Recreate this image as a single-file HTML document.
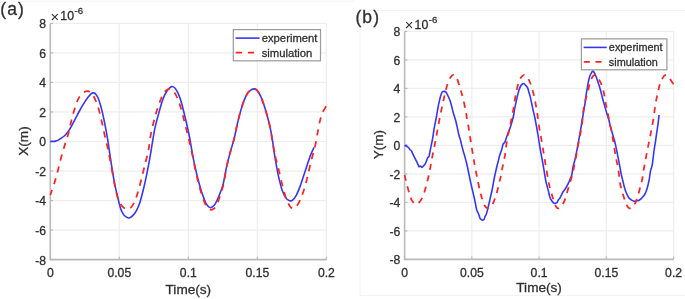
<!DOCTYPE html>
<html><head><meta charset="utf-8"><style>
html,body{margin:0;padding:0;background:#fff;}
body{width:685px;height:299px;overflow:hidden;}
svg{display:block;font-family:'Liberation Sans', sans-serif;filter:blur(0.35px);}
text{stroke:#303030;stroke-width:0.3px;}
</style></head><body>
<svg width="685" height="299" viewBox="0 0 685 299">
<rect width="685" height="299" fill="#fff"/>
<path d="M20,1.2 H355 M360,10.5 V295.5 H685 M378,10.5 H685" fill="none" stroke="#f3f3f3" stroke-width="1"/>
<line x1="119.32" y1="23.40" x2="119.32" y2="259.60" stroke="#eeeeee" stroke-width="1.2"/>
<line x1="188.35" y1="23.40" x2="188.35" y2="259.60" stroke="#eeeeee" stroke-width="1.2"/>
<line x1="257.38" y1="23.40" x2="257.38" y2="259.60" stroke="#eeeeee" stroke-width="1.2"/>
<line x1="326.40" y1="23.40" x2="326.40" y2="259.60" stroke="#eeeeee" stroke-width="1.2"/>
<line x1="50.30" y1="23.40" x2="326.40" y2="23.40" stroke="#eeeeee" stroke-width="1.2"/>
<line x1="50.30" y1="52.92" x2="326.40" y2="52.92" stroke="#eeeeee" stroke-width="1.2"/>
<line x1="50.30" y1="82.45" x2="326.40" y2="82.45" stroke="#eeeeee" stroke-width="1.2"/>
<line x1="50.30" y1="111.97" x2="326.40" y2="111.97" stroke="#eeeeee" stroke-width="1.2"/>
<line x1="50.30" y1="141.50" x2="326.40" y2="141.50" stroke="#eeeeee" stroke-width="1.2"/>
<line x1="50.30" y1="171.03" x2="326.40" y2="171.03" stroke="#eeeeee" stroke-width="1.2"/>
<line x1="50.30" y1="200.55" x2="326.40" y2="200.55" stroke="#eeeeee" stroke-width="1.2"/>
<line x1="50.30" y1="230.08" x2="326.40" y2="230.08" stroke="#eeeeee" stroke-width="1.2"/>
<path d="M50.30,23.40 L50.30,259.60 L326.40,259.60" fill="none" stroke="#b9b9b9" stroke-width="1.6"/>
<line x1="50.30" y1="23.40" x2="53.10" y2="23.40" stroke="#b9b9b9" stroke-width="1.2"/>
<line x1="50.30" y1="52.92" x2="53.10" y2="52.92" stroke="#b9b9b9" stroke-width="1.2"/>
<line x1="50.30" y1="82.45" x2="53.10" y2="82.45" stroke="#b9b9b9" stroke-width="1.2"/>
<line x1="50.30" y1="111.97" x2="53.10" y2="111.97" stroke="#b9b9b9" stroke-width="1.2"/>
<line x1="50.30" y1="141.50" x2="53.10" y2="141.50" stroke="#b9b9b9" stroke-width="1.2"/>
<line x1="50.30" y1="171.03" x2="53.10" y2="171.03" stroke="#b9b9b9" stroke-width="1.2"/>
<line x1="50.30" y1="200.55" x2="53.10" y2="200.55" stroke="#b9b9b9" stroke-width="1.2"/>
<line x1="50.30" y1="230.08" x2="53.10" y2="230.08" stroke="#b9b9b9" stroke-width="1.2"/>
<line x1="50.30" y1="259.60" x2="53.10" y2="259.60" stroke="#b9b9b9" stroke-width="1.2"/>
<line x1="50.30" y1="259.60" x2="50.30" y2="256.80" stroke="#b9b9b9" stroke-width="1.2"/>
<line x1="119.32" y1="259.60" x2="119.32" y2="256.80" stroke="#b9b9b9" stroke-width="1.2"/>
<line x1="188.35" y1="259.60" x2="188.35" y2="256.80" stroke="#b9b9b9" stroke-width="1.2"/>
<line x1="257.38" y1="259.60" x2="257.38" y2="256.80" stroke="#b9b9b9" stroke-width="1.2"/>
<line x1="326.40" y1="259.60" x2="326.40" y2="256.80" stroke="#b9b9b9" stroke-width="1.2"/>
<text x="46.10" y="28.30" text-anchor="end" font-size="12.2" fill="#303030">8</text>
<text x="46.10" y="57.82" text-anchor="end" font-size="12.2" fill="#303030">6</text>
<text x="46.10" y="87.35" text-anchor="end" font-size="12.2" fill="#303030">4</text>
<text x="46.10" y="116.88" text-anchor="end" font-size="12.2" fill="#303030">2</text>
<text x="46.10" y="146.40" text-anchor="end" font-size="12.2" fill="#303030">0</text>
<text x="46.10" y="175.93" text-anchor="end" font-size="12.2" fill="#303030">-2</text>
<text x="46.10" y="205.45" text-anchor="end" font-size="12.2" fill="#303030">-4</text>
<text x="46.10" y="234.98" text-anchor="end" font-size="12.2" fill="#303030">-6</text>
<text x="46.10" y="264.50" text-anchor="end" font-size="12.2" fill="#303030">-8</text>
<text x="50.30" y="276.80" text-anchor="middle" font-size="12.2" fill="#303030">0</text>
<text x="119.32" y="276.80" text-anchor="middle" font-size="12.2" fill="#303030">0.05</text>
<text x="188.35" y="276.80" text-anchor="middle" font-size="12.2" fill="#303030">0.1</text>
<text x="257.38" y="276.80" text-anchor="middle" font-size="12.2" fill="#303030">0.15</text>
<text x="326.40" y="276.80" text-anchor="middle" font-size="12.2" fill="#303030">0.2</text>
<text x="50.50" y="21.90" font-size="14.8" fill="#303030" style="stroke:none">&#215;</text>
<text x="60.30" y="20.40" font-size="12.3" fill="#303030">10</text>
<text x="74.50" y="14.10" font-size="9.6" fill="#303030">-6</text>
<text x="188.35" y="293.70" text-anchor="middle" font-size="13.6" fill="#303030">Time(s)</text>
<text transform="translate(28.40,141.00) rotate(-90)" text-anchor="middle" font-size="13.6" fill="#303030">X(m)</text>
<path d="M50.30,141.40 C50.75,141.40 52.10,141.45 53.00,141.40 C53.90,141.35 54.80,141.32 55.70,141.10 C56.60,140.88 57.52,140.57 58.40,140.10 C59.28,139.63 60.12,138.90 61.00,138.30 C61.88,137.70 62.80,137.25 63.70,136.50 C64.60,135.75 65.50,134.87 66.40,133.80 C67.30,132.73 68.22,131.43 69.10,130.10 C69.98,128.77 70.82,127.37 71.70,125.80 C72.58,124.23 73.50,122.45 74.40,120.70 C75.30,118.95 76.17,117.08 77.10,115.30 C78.03,113.52 79.00,111.78 80.00,110.00 C81.00,108.22 81.80,106.67 83.10,104.60 C84.40,102.53 86.43,99.43 87.80,97.60 C89.17,95.77 90.32,94.38 91.30,93.60 C92.28,92.82 92.92,92.75 93.70,92.90 C94.48,93.05 95.22,93.53 96.00,94.50 C96.78,95.47 97.62,96.82 98.40,98.70 C99.18,100.58 99.93,103.07 100.70,105.80 C101.47,108.53 102.22,111.60 103.00,115.10 C103.78,118.60 104.62,122.70 105.40,126.80 C106.18,130.90 106.65,133.10 107.70,139.70 C108.75,146.30 110.57,159.22 111.70,166.40 C112.83,173.58 113.52,177.73 114.50,182.80 C115.48,187.87 116.58,192.52 117.60,196.80 C118.62,201.08 119.63,205.57 120.60,208.50 C121.57,211.43 122.35,212.92 123.40,214.40 C124.45,215.88 125.92,216.82 126.90,217.40 C127.88,217.98 128.32,218.20 129.30,217.90 C130.28,217.60 131.63,216.77 132.80,215.60 C133.97,214.43 135.13,213.05 136.30,210.90 C137.47,208.75 138.63,206.22 139.80,202.70 C140.97,199.18 142.20,194.28 143.30,189.80 C144.40,185.32 145.42,180.48 146.40,175.80 C147.38,171.12 148.42,165.92 149.20,161.70 C149.98,157.48 150.48,154.20 151.10,150.50 C151.72,146.80 152.22,143.45 152.90,139.50 C153.58,135.55 154.30,130.87 155.20,126.80 C156.10,122.73 157.25,119.00 158.30,115.10 C159.35,111.20 160.45,106.72 161.50,103.40 C162.55,100.08 163.50,97.53 164.60,95.20 C165.70,92.87 166.93,90.83 168.10,89.40 C169.27,87.97 170.43,86.80 171.60,86.60 C172.77,86.40 174.05,87.15 175.10,88.20 C176.15,89.25 176.92,90.75 177.90,92.90 C178.88,95.05 179.98,97.78 181.00,101.10 C182.02,104.42 183.03,108.90 184.00,112.80 C184.97,116.70 185.88,120.47 186.80,124.50 C187.72,128.53 188.48,131.68 189.50,137.00 C190.52,142.32 191.75,150.43 192.90,156.40 C194.05,162.37 195.15,167.53 196.40,172.80 C197.65,178.07 199.28,184.12 200.40,188.00 C201.52,191.88 202.22,193.63 203.10,196.10 C203.98,198.57 204.82,201.07 205.70,202.80 C206.58,204.53 207.62,205.68 208.40,206.50 C209.18,207.32 209.73,207.65 210.40,207.70 C211.07,207.75 211.62,207.40 212.40,206.80 C213.18,206.20 214.20,205.45 215.10,204.10 C216.00,202.75 216.90,200.72 217.80,198.70 C218.70,196.68 219.60,194.45 220.50,192.00 C221.40,189.55 222.15,188.37 223.20,184.00 C224.25,179.63 225.60,171.18 226.80,165.80 C228.00,160.42 229.17,156.25 230.40,151.70 C231.63,147.15 233.07,143.03 234.20,138.50 C235.33,133.97 236.10,129.18 237.20,124.50 C238.30,119.82 239.62,114.50 240.80,110.40 C241.98,106.30 243.13,102.82 244.30,99.90 C245.47,96.98 246.63,94.58 247.80,92.90 C248.97,91.22 250.22,90.47 251.30,89.80 C252.38,89.13 253.32,88.78 254.30,88.90 C255.28,89.02 256.13,89.25 257.20,90.50 C258.27,91.75 259.53,93.85 260.70,96.40 C261.87,98.95 263.15,102.68 264.20,105.80 C265.25,108.92 266.03,111.60 267.00,115.10 C267.97,118.60 269.08,122.57 270.00,126.80 C270.92,131.03 271.87,136.63 272.50,140.50 C273.13,144.37 273.17,145.90 273.80,150.00 C274.43,154.10 275.47,160.50 276.30,165.10 C277.13,169.70 277.83,173.43 278.80,177.60 C279.77,181.77 280.97,186.77 282.10,190.10 C283.23,193.43 284.35,195.83 285.60,197.60 C286.85,199.37 288.43,200.27 289.60,200.70 C290.77,201.13 291.47,201.13 292.60,200.20 C293.73,199.27 295.15,197.40 296.40,195.10 C297.65,192.80 298.85,189.73 300.10,186.40 C301.35,183.07 302.65,178.87 303.90,175.10 C305.15,171.33 306.48,167.15 307.60,163.80 C308.72,160.45 309.53,157.73 310.60,155.00 C311.67,152.27 313.43,148.67 314.00,147.40" fill="none" stroke="#3636f8" stroke-width="1.6"/>
<path d="M50.30,195.00 C51.08,192.67 53.63,185.50 55.00,181.00 C56.37,176.50 57.32,172.50 58.50,168.00 C59.68,163.50 60.92,158.28 62.10,154.00 C63.28,149.72 64.55,145.73 65.60,142.30 C66.65,138.87 67.60,136.33 68.40,133.40 C69.20,130.47 69.73,127.48 70.40,124.70 C71.07,121.92 71.65,119.47 72.40,116.70 C73.15,113.93 73.90,111.10 74.90,108.10 C75.90,105.10 77.03,101.23 78.40,98.70 C79.77,96.17 81.62,94.15 83.10,92.90 C84.58,91.65 85.93,91.20 87.30,91.20 C88.67,91.20 90.05,91.65 91.30,92.90 C92.55,94.15 93.62,96.17 94.80,98.70 C95.98,101.23 97.22,104.18 98.40,108.10 C99.58,112.02 100.73,117.13 101.90,122.20 C103.07,127.27 104.35,133.87 105.40,138.50 C106.45,143.13 107.15,144.97 108.20,150.00 C109.25,155.03 110.53,162.45 111.70,168.70" fill="none" stroke="#ff2222" stroke-width="1.75" stroke-dasharray="6.30 5.90" stroke-dashoffset="0.88"/>
<path d="M111.70,168.70 C112.87,174.95 114.03,182.22 115.20,187.50 C116.37,192.78 117.33,197.08 118.70,200.40 C120.07,203.72 121.83,205.97 123.40,207.40 C124.97,208.83 126.73,209.12 128.10,209.00 C129.47,208.88 130.43,208.13 131.60,206.70 C132.77,205.27 133.93,203.22 135.10,200.40 C136.27,197.58 137.42,193.90 138.60,189.80 C139.78,185.70 141.02,180.48 142.20,175.80 C143.38,171.12 144.65,166.00 145.70,161.70 C146.75,157.40 147.70,154.25 148.50,150.00 C149.30,145.75 149.65,140.83 150.50,136.20 C151.35,131.57 152.53,126.50 153.60,122.20 C154.67,117.90 155.73,114.12 156.90,110.40 C158.07,106.68 159.43,102.82 160.60,99.90 C161.77,96.98 162.73,94.65 163.90,92.90 C165.07,91.15 166.43,90.07 167.60,89.40 C168.77,88.73 169.72,88.32 170.90,88.90 C172.08,89.48 173.42,90.87 174.70,92.90 C175.98,94.93 177.35,97.78 178.60,101.10 C179.85,104.42 181.02,108.52 182.20,112.80 C183.38,117.08 184.53,122.12 185.70,126.80 C186.87,131.48 188.03,135.97 189.20,140.90 C190.37,145.83 191.57,151.08 192.70,156.40" fill="none" stroke="#ff2222" stroke-width="1.75" stroke-dasharray="6.30 5.90" stroke-dashoffset="0.17"/>
<path d="M192.70,156.40 C193.83,161.72 194.88,167.73 196.00,172.80 C197.12,177.87 198.33,182.85 199.40,186.80 C200.47,190.75 201.43,193.67 202.40,196.50 C203.37,199.33 204.23,201.83 205.20,203.80 C206.17,205.77 207.18,207.30 208.20,208.30 C209.22,209.30 210.30,209.78 211.30,209.80 C212.30,209.82 213.28,209.28 214.20,208.40 C215.12,207.52 215.98,206.15 216.80,204.50 C217.62,202.85 218.37,200.58 219.10,198.50 C219.83,196.42 220.45,194.42 221.20,192.00 C221.95,189.58 222.65,188.37 223.60,184.00 C224.55,179.63 225.77,171.18 226.90,165.80 C228.03,160.42 229.18,156.25 230.40,151.70 C231.62,147.15 233.07,143.03 234.20,138.50 C235.33,133.97 236.10,129.18 237.20,124.50 C238.30,119.82 239.62,114.50 240.80,110.40 C241.98,106.30 243.13,102.82 244.30,99.90 C245.47,96.98 246.63,94.58 247.80,92.90 C248.97,91.22 250.22,90.47 251.30,89.80 C252.38,89.13 253.32,88.78 254.30,88.90 C255.28,89.02 256.13,89.25 257.20,90.50 C258.27,91.75 259.53,93.85 260.70,96.40 C261.87,98.95 263.15,102.68 264.20,105.80 C265.25,108.92 266.03,111.60 267.00,115.10 C267.97,118.60 269.12,122.65 270.00,126.80 C270.88,130.95 271.47,135.30 272.30,140.00 C273.13,144.70 273.92,149.98 275.00,155.00" fill="none" stroke="#ff2222" stroke-width="1.75" stroke-dasharray="6.30 5.90" stroke-dashoffset="4.74"/>
<path d="M275.00,155.00 C276.08,160.02 277.53,164.87 278.80,170.10 C280.07,175.33 281.35,181.60 282.60,186.40 C283.85,191.20 285.05,195.57 286.30,198.90 C287.55,202.23 288.97,204.82 290.10,206.40 C291.23,207.98 292.05,208.40 293.10,208.40 C294.15,208.40 295.23,207.77 296.40,206.40 C297.57,205.03 298.85,202.92 300.10,200.20 C301.35,197.48 302.65,194.08 303.90,190.10 C305.15,186.12 306.35,181.32 307.60,176.30 C308.85,171.28 310.15,165.02 311.40,160.00 C312.65,154.98 314.08,150.65 315.10,146.20 C316.12,141.75 316.72,137.40 317.50,133.30 C318.28,129.20 319.02,124.92 319.80,121.60 C320.58,118.28 321.12,116.00 322.20,113.40 C323.28,110.80 325.62,107.23 326.30,106.00" fill="none" stroke="#ff2222" stroke-width="1.75" stroke-dasharray="6.30 5.90" stroke-dashoffset="10.73"/>
<rect x="233.30" y="29.60" width="87.20" height="31.20" fill="#fff" stroke="#9a9a9a" stroke-width="1.2"/>
<line x1="235.61" y1="38.10" x2="259.53" y2="38.10" stroke="#3636f8" stroke-width="1.6"/>
<line x1="235.61" y1="52.60" x2="259.53" y2="52.60" stroke="#ff2222" stroke-width="1.6" stroke-dasharray="6.30 5.90" stroke-dashoffset="-0.05"/>
<text x="261.74" y="42.10" font-size="11.26" fill="#303030">experiment</text>
<text x="261.74" y="56.50" font-size="11.26" fill="#303030">simulation</text>
<text x="0.30" y="15.20" font-size="17.5" letter-spacing="1.1" fill="#303030">(a)</text>
<line x1="471.85" y1="31.40" x2="471.85" y2="259.40" stroke="#eeeeee" stroke-width="1.2"/>
<line x1="539.10" y1="31.40" x2="539.10" y2="259.40" stroke="#eeeeee" stroke-width="1.2"/>
<line x1="606.35" y1="31.40" x2="606.35" y2="259.40" stroke="#eeeeee" stroke-width="1.2"/>
<line x1="673.60" y1="31.40" x2="673.60" y2="259.40" stroke="#eeeeee" stroke-width="1.2"/>
<line x1="404.60" y1="31.40" x2="673.60" y2="31.40" stroke="#eeeeee" stroke-width="1.2"/>
<line x1="404.60" y1="59.90" x2="673.60" y2="59.90" stroke="#eeeeee" stroke-width="1.2"/>
<line x1="404.60" y1="88.40" x2="673.60" y2="88.40" stroke="#eeeeee" stroke-width="1.2"/>
<line x1="404.60" y1="116.90" x2="673.60" y2="116.90" stroke="#eeeeee" stroke-width="1.2"/>
<line x1="404.60" y1="145.40" x2="673.60" y2="145.40" stroke="#eeeeee" stroke-width="1.2"/>
<line x1="404.60" y1="173.90" x2="673.60" y2="173.90" stroke="#eeeeee" stroke-width="1.2"/>
<line x1="404.60" y1="202.40" x2="673.60" y2="202.40" stroke="#eeeeee" stroke-width="1.2"/>
<line x1="404.60" y1="230.90" x2="673.60" y2="230.90" stroke="#eeeeee" stroke-width="1.2"/>
<path d="M404.60,31.40 L404.60,259.40 L673.60,259.40" fill="none" stroke="#b9b9b9" stroke-width="1.6"/>
<line x1="404.60" y1="31.40" x2="407.40" y2="31.40" stroke="#b9b9b9" stroke-width="1.2"/>
<line x1="404.60" y1="59.90" x2="407.40" y2="59.90" stroke="#b9b9b9" stroke-width="1.2"/>
<line x1="404.60" y1="88.40" x2="407.40" y2="88.40" stroke="#b9b9b9" stroke-width="1.2"/>
<line x1="404.60" y1="116.90" x2="407.40" y2="116.90" stroke="#b9b9b9" stroke-width="1.2"/>
<line x1="404.60" y1="145.40" x2="407.40" y2="145.40" stroke="#b9b9b9" stroke-width="1.2"/>
<line x1="404.60" y1="173.90" x2="407.40" y2="173.90" stroke="#b9b9b9" stroke-width="1.2"/>
<line x1="404.60" y1="202.40" x2="407.40" y2="202.40" stroke="#b9b9b9" stroke-width="1.2"/>
<line x1="404.60" y1="230.90" x2="407.40" y2="230.90" stroke="#b9b9b9" stroke-width="1.2"/>
<line x1="404.60" y1="259.40" x2="407.40" y2="259.40" stroke="#b9b9b9" stroke-width="1.2"/>
<line x1="404.60" y1="259.40" x2="404.60" y2="256.60" stroke="#b9b9b9" stroke-width="1.2"/>
<line x1="471.85" y1="259.40" x2="471.85" y2="256.60" stroke="#b9b9b9" stroke-width="1.2"/>
<line x1="539.10" y1="259.40" x2="539.10" y2="256.60" stroke="#b9b9b9" stroke-width="1.2"/>
<line x1="606.35" y1="259.40" x2="606.35" y2="256.60" stroke="#b9b9b9" stroke-width="1.2"/>
<line x1="673.60" y1="259.40" x2="673.60" y2="256.60" stroke="#b9b9b9" stroke-width="1.2"/>
<text x="400.40" y="36.30" text-anchor="end" font-size="12.2" fill="#303030">8</text>
<text x="400.40" y="64.80" text-anchor="end" font-size="12.2" fill="#303030">6</text>
<text x="400.40" y="93.30" text-anchor="end" font-size="12.2" fill="#303030">4</text>
<text x="400.40" y="121.80" text-anchor="end" font-size="12.2" fill="#303030">2</text>
<text x="400.40" y="150.30" text-anchor="end" font-size="12.2" fill="#303030">0</text>
<text x="400.40" y="178.80" text-anchor="end" font-size="12.2" fill="#303030">-2</text>
<text x="400.40" y="207.30" text-anchor="end" font-size="12.2" fill="#303030">-4</text>
<text x="400.40" y="235.80" text-anchor="end" font-size="12.2" fill="#303030">-6</text>
<text x="400.40" y="264.30" text-anchor="end" font-size="12.2" fill="#303030">-8</text>
<text x="404.60" y="276.60" text-anchor="middle" font-size="12.2" fill="#303030">0</text>
<text x="471.85" y="276.60" text-anchor="middle" font-size="12.2" fill="#303030">0.05</text>
<text x="539.10" y="276.60" text-anchor="middle" font-size="12.2" fill="#303030">0.1</text>
<text x="606.35" y="276.60" text-anchor="middle" font-size="12.2" fill="#303030">0.15</text>
<text x="673.60" y="276.60" text-anchor="middle" font-size="12.2" fill="#303030">0.2</text>
<text x="404.80" y="30.40" font-size="14.8" fill="#303030" style="stroke:none">&#215;</text>
<text x="414.60" y="28.90" font-size="12.3" fill="#303030">10</text>
<text x="428.80" y="22.60" font-size="9.6" fill="#303030">-6</text>
<text x="539.10" y="292.30" text-anchor="middle" font-size="13.6" fill="#303030">Time(s)</text>
<text transform="translate(383.40,144.60) rotate(-90)" text-anchor="middle" font-size="13.6" fill="#303030">Y(m)</text>
<path d="M404.70,146.40 C404.92,146.23 405.55,145.33 406.00,145.40 C406.45,145.47 406.95,146.42 407.40,146.80 C407.85,147.18 408.27,147.22 408.70,147.70 C409.13,148.18 409.55,149.18 410.00,149.70 C410.45,150.22 410.95,150.13 411.40,150.80 C411.85,151.47 412.27,152.77 412.70,153.70 C413.13,154.63 413.55,155.50 414.00,156.40 C414.45,157.30 414.95,158.22 415.40,159.10 C415.85,159.98 416.25,160.77 416.70,161.70 C417.15,162.63 417.70,163.85 418.10,164.70 C418.50,165.55 418.70,166.58 419.10,166.80 C419.50,167.02 420.05,165.90 420.50,166.00 C420.95,166.10 421.32,167.40 421.80,167.40 C422.28,167.40 422.80,166.62 423.40,166.00 C424.00,165.38 424.85,164.63 425.40,163.70 C425.95,162.77 426.32,161.40 426.70,160.40 C427.08,159.40 427.32,158.37 427.70,157.70 C428.08,157.03 428.60,157.52 429.00,156.40 C429.40,155.28 429.70,153.00 430.10,151.00 C430.50,149.00 430.95,146.62 431.40,144.40 C431.85,142.18 432.37,140.23 432.80,137.70 C433.23,135.17 433.42,132.57 434.00,129.20 C434.58,125.83 435.58,121.37 436.30,117.50 C437.02,113.63 437.82,108.58 438.30,106.00 C438.78,103.42 438.88,103.42 439.20,102.00 C439.52,100.58 439.82,98.92 440.20,97.50 C440.58,96.08 441.10,94.47 441.50,93.50 C441.90,92.53 442.13,92.05 442.60,91.70 C443.07,91.35 443.73,91.33 444.30,91.40 C444.87,91.47 445.50,91.58 446.00,92.10 C446.50,92.62 446.88,93.68 447.30,94.50 C447.72,95.32 448.05,96.00 448.50,97.00 C448.95,98.00 449.48,99.00 450.00,100.50 C450.52,102.00 451.12,104.17 451.60,106.00 C452.08,107.83 452.50,110.00 452.90,111.50 C453.30,113.00 453.48,113.30 454.00,115.00 C454.52,116.70 455.40,119.37 456.00,121.70 C456.60,124.03 457.08,126.67 457.60,129.00 C458.12,131.33 458.58,133.70 459.10,135.70 C459.62,137.70 460.22,139.22 460.70,141.00 C461.18,142.78 461.55,144.62 462.00,146.40 C462.45,148.18 462.90,149.92 463.40,151.70 C463.90,153.48 464.45,155.08 465.00,157.10 C465.55,159.12 466.20,161.73 466.70,163.80 C467.20,165.87 467.42,166.73 468.00,169.50 C468.58,172.27 469.47,176.98 470.20,180.40 C470.93,183.82 471.77,187.28 472.40,190.00 C473.03,192.72 473.50,194.47 474.00,196.70 C474.50,198.93 474.95,201.18 475.40,203.40 C475.85,205.62 476.27,208.45 476.70,210.00 C477.13,211.55 477.60,211.80 478.00,212.70 C478.40,213.60 478.77,214.50 479.10,215.40 C479.43,216.30 479.62,217.38 480.00,218.10 C480.38,218.82 480.95,219.37 481.40,219.70 C481.85,220.03 482.25,220.15 482.70,220.10 C483.15,220.05 483.72,219.97 484.10,219.40 C484.48,218.83 484.67,217.48 485.00,216.70 C485.33,215.92 485.75,215.58 486.10,214.70 C486.45,213.82 486.77,212.62 487.10,211.40 C487.43,210.18 487.72,208.97 488.10,207.40 C488.48,205.83 488.97,203.90 489.40,202.00 C489.83,200.10 490.25,198.00 490.70,196.00 C491.15,194.00 491.68,192.00 492.10,190.00 C492.52,188.00 492.85,185.92 493.20,184.00 C493.55,182.08 493.80,180.50 494.20,178.50 C494.60,176.50 495.13,174.08 495.60,172.00 C496.07,169.92 496.57,167.75 497.00,166.00 C497.43,164.25 497.75,163.30 498.20,161.50 C498.65,159.70 499.15,157.08 499.70,155.20 C500.25,153.32 500.92,152.08 501.50,150.20 C502.08,148.32 502.65,145.20 503.20,143.90 C503.75,142.60 504.27,143.43 504.80,142.40 C505.33,141.37 505.80,139.37 506.40,137.70 C507.00,136.03 507.73,134.18 508.40,132.40 C509.07,130.62 509.73,129.02 510.40,127.00 C511.07,124.98 511.85,122.30 512.40,120.30 C512.95,118.30 513.37,116.72 513.70,115.00 C514.03,113.28 514.05,111.93 514.40,110.00 C514.75,108.07 515.30,105.72 515.80,103.40 C516.30,101.08 516.87,98.32 517.40,96.10 C517.93,93.88 518.45,91.78 519.00,90.10 C519.55,88.42 520.12,87.02 520.70,86.00 C521.28,84.98 521.98,84.40 522.50,84.00 C523.02,83.60 523.32,83.43 523.80,83.60 C524.28,83.77 524.80,84.37 525.40,85.00 C526.00,85.63 526.85,86.33 527.40,87.40 C527.95,88.47 528.25,89.95 528.70,91.40 C529.15,92.85 529.65,94.32 530.10,96.10 C530.55,97.88 530.95,99.98 531.40,102.10 C531.85,104.22 532.20,106.07 532.80,108.80 C533.40,111.53 534.15,114.23 535.00,118.50 C535.85,122.77 537.15,130.00 537.90,134.40 C538.65,138.80 538.92,141.40 539.50,144.90 C540.08,148.40 540.70,151.50 541.40,155.40 C542.10,159.30 542.98,164.15 543.70,168.30 C544.42,172.45 545.15,177.40 545.70,180.30 C546.25,183.20 546.55,183.92 547.00,185.70 C547.45,187.48 547.95,189.22 548.40,191.00 C548.85,192.78 549.27,194.95 549.70,196.40 C550.13,197.85 550.45,198.70 551.00,199.70 C551.55,200.70 552.43,201.80 553.00,202.40 C553.57,203.00 553.95,203.18 554.40,203.30 C554.85,203.42 555.25,203.25 555.70,203.10 C556.15,202.95 556.65,202.97 557.10,202.40 C557.55,201.83 557.97,200.37 558.40,199.70 C558.83,199.03 559.25,199.07 559.70,198.40 C560.15,197.73 560.65,196.60 561.10,195.70 C561.55,194.80 561.97,193.78 562.40,193.00 C562.83,192.22 563.25,191.67 563.70,191.00 C564.15,190.33 564.65,189.67 565.10,189.00 C565.55,188.33 565.95,187.77 566.40,187.00 C566.85,186.23 567.35,185.28 567.80,184.40 C568.25,183.52 568.67,182.72 569.10,181.70 C569.53,180.68 569.95,179.42 570.40,178.30 C570.85,177.18 571.37,176.85 571.80,175.00 C572.23,173.15 572.40,170.07 573.00,167.20 C573.60,164.33 574.62,161.32 575.40,157.80 C576.18,154.28 576.93,150.20 577.70,146.10 C578.47,142.00 579.38,136.72 580.00,133.20 C580.62,129.68 580.85,128.28 581.40,125.00 C581.95,121.72 582.72,116.97 583.30,113.50 C583.88,110.03 584.43,107.28 584.90,104.20 C585.37,101.12 585.70,97.68 586.10,95.00 C586.50,92.32 586.90,90.42 587.30,88.10 C587.70,85.78 588.10,83.05 588.50,81.10 C588.90,79.15 589.22,77.77 589.70,76.40 C590.18,75.03 590.88,73.78 591.40,72.90 C591.92,72.02 592.37,71.20 592.80,71.10 C593.23,71.00 593.55,71.62 594.00,72.30 C594.45,72.98 594.95,73.93 595.50,75.20 C596.05,76.47 596.72,78.23 597.30,79.90 C597.88,81.57 598.45,83.43 599.00,85.20 C599.55,86.97 600.02,88.32 600.60,90.50 C601.18,92.68 601.80,95.63 602.50,98.30 C603.20,100.97 604.02,103.77 604.80,106.50 C605.58,109.23 606.52,112.45 607.20,114.70 C607.88,116.95 608.35,117.95 608.90,120.00 C609.45,122.05 609.83,124.47 610.50,127.00 C611.17,129.53 612.12,132.47 612.90,135.20 C613.68,137.93 614.42,140.08 615.20,143.40 C615.98,146.72 616.82,151.20 617.60,155.10 C618.38,159.00 619.27,163.48 619.90,166.80 C620.53,170.12 620.93,172.75 621.40,175.00 C621.87,177.25 622.27,178.52 622.70,180.30 C623.13,182.08 623.55,184.02 624.00,185.70 C624.45,187.38 624.83,188.83 625.40,190.40 C625.97,191.97 626.73,193.77 627.40,195.10 C628.07,196.43 628.62,197.52 629.40,198.40 C630.18,199.28 631.22,199.92 632.10,200.40 C632.98,200.88 633.93,201.23 634.70,201.30 C635.47,201.37 636.03,200.95 636.70,200.80 C637.37,200.65 638.03,200.67 638.70,200.40 C639.37,200.13 639.88,199.93 640.70,199.20 C641.52,198.47 642.82,197.02 643.60,196.00 C644.38,194.98 644.82,194.37 645.40,193.10 C645.98,191.83 646.62,189.97 647.10,188.40 C647.58,186.83 647.90,185.45 648.30,183.70 C648.70,181.95 649.17,179.85 649.50,177.90 C649.83,175.95 650.02,173.57 650.30,172.00 C650.58,170.43 650.88,169.67 651.20,168.50 C651.52,167.33 651.87,166.83 652.20,165.00 C652.53,163.17 652.88,160.00 653.20,157.50 C653.52,155.00 653.73,152.57 654.10,150.00 C654.47,147.43 654.97,144.97 655.40,142.10 C655.83,139.23 656.25,135.92 656.70,132.80 C657.15,129.68 657.72,126.37 658.10,123.40 C658.48,120.43 658.85,116.40 659.00,115.00" fill="none" stroke="#3636f8" stroke-width="1.6"/>
<path d="M404.50,174.80 C404.67,175.43 405.08,176.97 405.50,178.60 C405.92,180.23 406.50,182.60 407.00,184.60 C407.50,186.60 407.95,188.60 408.50,190.60 C409.05,192.60 409.67,194.85 410.30,196.60 C410.93,198.35 411.58,199.97 412.30,201.10 C413.02,202.23 413.85,202.93 414.60,203.40 C415.35,203.87 416.00,204.12 416.80,203.90 C417.60,203.68 418.55,203.02 419.40,202.10 C420.25,201.18 421.08,200.03 421.90,198.40 C422.72,196.77 423.53,194.57 424.30,192.30 C425.07,190.03 425.83,187.32 426.50,184.80 C427.17,182.28 427.75,179.67 428.30,177.20 C428.85,174.73 429.37,172.13 429.80,170.00 C430.23,167.87 430.52,166.45 430.90,164.40 C431.28,162.35 431.68,159.93 432.10,157.70 C432.52,155.47 432.95,153.22 433.40,151.00 C433.85,148.78 434.35,146.62 434.80,144.40 C435.25,142.18 435.27,142.18 436.10,137.70 C436.93,133.22 438.60,123.60 439.80,117.50 C441.00,111.40 442.48,104.88 443.30,101.10 C444.12,97.32 444.13,97.20 444.70,94.80 C445.27,92.40 445.92,89.27 446.70,86.70 C447.48,84.13 448.50,81.28 449.40,79.40 C450.30,77.52 451.32,76.13 452.10,75.40 C452.88,74.67 453.33,74.57 454.10,75.00 C454.87,75.43 455.93,76.60 456.70,78.00 C457.47,79.40 458.07,81.48 458.70,83.40 C459.33,85.32 459.93,87.57 460.50,89.50 C461.07,91.43 461.50,92.75 462.10,95.00 C462.70,97.25 463.50,100.33 464.10,103.00 C464.70,105.67 465.27,108.67 465.70,111.00 C466.13,113.33 466.30,114.77 466.70,117.00 C467.10,119.23 467.65,121.73 468.10,124.40 C468.55,127.07 468.97,130.23 469.40,133.00 C469.83,135.77 470.25,138.22 470.70,141.00 C471.15,143.78 471.65,147.02 472.10,149.70 C472.55,152.38 473.00,154.75 473.40,157.10 C473.80,159.45 473.87,160.30 474.50,163.80 C475.13,167.30 476.23,173.37 477.20,178.10 C478.17,182.83 479.45,188.63 480.30,192.20 C481.15,195.77 481.58,197.28 482.30,199.50 C483.02,201.72 483.85,204.08 484.60,205.50 C485.35,206.92 486.07,207.65 486.80,208.00 C487.53,208.35 488.27,207.98 489.00,207.60 C489.73,207.22 490.47,206.53 491.20,205.70 C491.93,204.87 492.70,204.05 493.40,202.60 C494.10,201.15 494.77,198.90 495.40,197.00 C496.03,195.10 496.67,193.12 497.20,191.20 C497.73,189.28 498.13,187.42 498.60,185.50 C499.07,183.58 499.57,181.62 500.00,179.70 C500.43,177.78 500.82,175.92 501.20,174.00 C501.58,172.08 501.92,170.13 502.30,168.20 C502.68,166.27 503.10,164.32 503.50,162.40 C503.90,160.48 504.37,158.52 504.70,156.70 C505.03,154.88 505.22,153.55 505.50,151.50 C505.78,149.45 506.03,146.92 506.40,144.40 C506.77,141.88 507.25,138.73 507.70,136.40 C508.15,134.07 508.60,132.63 509.10,130.40 C509.60,128.17 510.22,125.40 510.70,123.00 C511.18,120.60 511.55,118.25 512.00,116.00 C512.45,113.75 513.02,111.60 513.40,109.50 C513.78,107.40 513.97,105.53 514.30,103.40 C514.63,101.27 515.00,98.93 515.40,96.70 C515.80,94.47 516.27,92.00 516.70,90.00 C517.13,88.00 517.48,86.47 518.00,84.70 C518.52,82.93 519.18,80.73 519.80,79.40 C520.42,78.07 521.03,77.43 521.70,76.70 C522.37,75.97 523.07,75.08 523.80,75.00 C524.53,74.92 525.33,75.53 526.10,76.20 C526.87,76.87 527.73,77.92 528.40,79.00 C529.07,80.08 529.48,81.08 530.10,82.70 C530.72,84.32 531.43,86.47 532.10,88.70 C532.77,90.93 533.48,93.42 534.10,96.10 C534.72,98.78 535.28,101.98 535.80,104.80 C536.32,107.62 536.78,110.32 537.20,113.00 C537.62,115.68 537.90,118.07 538.30,120.90 C538.70,123.73 539.17,127.37 539.60,130.00 C540.03,132.63 540.28,133.23 540.90,136.70 C541.52,140.17 542.52,146.12 543.30,150.80 C544.08,155.48 544.78,159.93 545.60,164.80 C546.42,169.67 547.40,175.85 548.20,180.00 C549.00,184.15 549.70,186.97 550.40,189.70 C551.10,192.43 551.73,194.17 552.40,196.40 C553.07,198.63 553.73,201.32 554.40,203.10 C555.07,204.88 555.73,206.22 556.40,207.10 C557.07,207.98 557.73,208.40 558.40,208.40 C559.07,208.40 559.62,207.88 560.40,207.10 C561.18,206.32 562.32,205.03 563.10,203.70 C563.88,202.37 564.43,200.98 565.10,199.10 C565.77,197.22 566.43,194.63 567.10,192.40 C567.77,190.17 568.43,187.93 569.10,185.70 C569.77,183.47 570.45,181.32 571.10,179.00 C571.75,176.68 572.28,174.95 573.00,171.80 C573.72,168.65 574.62,164.20 575.40,160.10 C576.18,156.00 576.93,151.30 577.70,147.20 C578.47,143.10 579.30,139.20 580.00,135.50 C580.70,131.80 581.35,129.05 581.90,125.00 C582.45,120.95 582.68,115.45 583.30,111.20 C583.92,106.95 584.83,102.75 585.60,99.50 C586.37,96.25 587.22,94.38 587.90,91.70 C588.58,89.02 589.12,85.55 589.70,83.40 C590.28,81.25 590.82,80.07 591.40,78.80 C591.98,77.53 592.57,76.40 593.20,75.80 C593.83,75.20 594.52,74.95 595.20,75.20 C595.88,75.45 596.60,76.45 597.30,77.30 C598.00,78.15 598.70,79.08 599.40,80.30 C600.10,81.52 600.82,82.82 601.50,84.60 C602.18,86.38 602.82,87.97 603.50,91.00 C604.18,94.03 604.88,99.10 605.60,102.80 C606.32,106.50 607.07,109.50 607.80,113.20 C608.53,116.90 609.43,122.30 610.00,125.00 C610.57,127.70 610.60,126.33 611.20,129.40 C611.80,132.47 612.82,138.72 613.60,143.40 C614.38,148.08 615.12,153.20 615.90,157.50 C616.68,161.80 617.62,164.95 618.30,169.20 C618.98,173.45 619.38,179.37 620.00,183.00 C620.62,186.63 621.33,188.55 622.00,191.00 C622.67,193.45 623.33,195.58 624.00,197.70 C624.67,199.82 625.33,202.13 626.00,203.70 C626.67,205.27 627.37,206.32 628.00,207.10 C628.63,207.88 629.12,208.28 629.80,208.40 C630.48,208.52 631.38,208.35 632.10,207.80 C632.82,207.25 633.43,206.22 634.10,205.10 C634.77,203.98 635.43,202.77 636.10,201.10 C636.77,199.43 637.43,197.33 638.10,195.10 C638.77,192.87 639.43,190.27 640.10,187.70 C640.77,185.13 641.45,182.98 642.10,179.70 C642.75,176.42 643.28,172.10 644.00,168.00 C644.72,163.90 645.62,159.20 646.40,155.10 C647.18,151.00 647.92,147.30 648.70,143.40 C649.48,139.50 650.32,135.77 651.10,131.70 C651.88,127.63 652.68,123.53 653.40,119.00 C654.12,114.47 654.67,108.87 655.40,104.50 C656.13,100.13 657.02,96.32 657.80,92.80 C658.58,89.28 659.25,85.93 660.10,83.40 C660.95,80.87 662.03,78.97 662.90,77.60 C663.77,76.23 664.40,75.40 665.30,75.20 C666.20,75.00 667.40,75.62 668.30,76.40 C669.20,77.18 669.92,78.73 670.70,79.90 C671.48,81.07 672.48,82.58 673.00,83.40 C673.52,84.22 673.67,84.57 673.80,84.80" fill="none" stroke="#ff2222" stroke-width="1.75" stroke-dasharray="6.00 5.68" stroke-dashoffset="11.47"/>
<rect x="581.40" y="38.90" width="85.50" height="30.90" fill="#fff" stroke="#9a9a9a" stroke-width="1.2"/>
<line x1="583.63" y1="47.40" x2="606.72" y2="47.40" stroke="#3636f8" stroke-width="1.6"/>
<line x1="583.63" y1="61.90" x2="606.72" y2="61.90" stroke="#ff2222" stroke-width="1.6" stroke-dasharray="6.00 5.68" stroke-dashoffset="-0.20"/>
<text x="608.85" y="51.40" font-size="10.86" fill="#303030">experiment</text>
<text x="608.85" y="65.80" font-size="10.86" fill="#303030">simulation</text>
<text x="355.40" y="23.10" font-size="17.5" letter-spacing="1.1" fill="#303030">(b)</text>
</svg>
</body></html>
